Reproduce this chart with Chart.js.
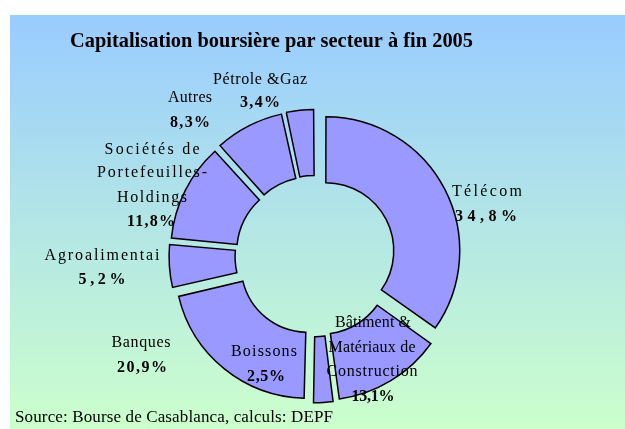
<!DOCTYPE html>
<html>
<head>
<meta charset="utf-8">
<script src="https://cdn.jsdelivr.net/npm/chart.js@4/dist/chart.umd.min.js"></script>
<style>
html,body{margin:0;padding:0;background:#fff;}
#wrap{width:625px;height:429px;position:relative;}
</style>
</head>
<body>
<div id="wrap"><canvas id="c" width="625" height="429"></canvas></div>
<script>
// ---- data ----
const categories = ["Télécom", "Bâtiment & Matériaux de Construction", "Boissons", "Banques", "Agroalimentai", "Sociétés de Portefeuilles-Holdings", "Autres", "Pétrole &Gaz"];
const labelLines = [["Télécom"], ["Bâtiment &", "Matériaux de", "Construction"], ["Boissons"], ["Banques"], ["Agroalimentai"], ["Sociétés de", "Portefeuilles-", "Holdings"], ["Autres"], ["Pétrole &Gaz"]];
const shares = [34.8, 13.1, 2.5, 20.9, 5.2, 11.8, 8.3, 3.4];
const shareLabels = ["34,8%", "13,1%", "2,5%", "20,9%", "5,2%", "11,8%", "8,3%", "3,4%"];
const titleText = "Capitalisation boursière par secteur à fin 2005";
const sourceText = "Source: Bourse de Casablanca, calculs: DEPF";

// ---- layout (positions / sizes, kept apart from data) ----
// per category: [centerX, centerY, targetWidth] for each name line, then for the value line
const labelLayout = [
  {lines: [[487, 192, 70]], value: [486, 217, 62]},
  {lines: [[373, 323, 76], [372, 348, 87], [372, 372, 91]], value: [373, 397, 43]},
  {lines: [[264, 352, 66]], value: [266, 377, 38]},
  {lines: [[141, 343, 59]], value: [142, 368, 50]},
  {lines: [[102, 256, 115]], value: [102, 280, 47]},
  {lines: [[152, 150, 95], [152, 173, 110], [152, 198, 70]], value: [151, 222, 48]},
  {lines: [[190, 98, 44]], value: [190, 123, 40]},
  {lines: [[260, 80, 94]], value: [260, 103, 40]}
];
const SERIF = "'Liberation Serif', 'Times New Roman', serif";
const EXPLODE = 13;

function fitText(ctx, text, cx, cy, target) {
  ctx.letterSpacing = '0px';
  const w = ctx.measureText(text).width;
  const n = [...text].length;
  const ls = n > 1 ? (target - w) / (n - 1) : 0;
  ctx.letterSpacing = ls + 'px';
  ctx.textAlign = 'left';
  ctx.textBaseline = 'middle';
  ctx.fillText(text, cx - target / 2, cy);
  ctx.letterSpacing = '0px';
}

function scaleText(ctx, text, cx, cy, target) {
  ctx.letterSpacing = '0px';
  const w = ctx.measureText(text).width;
  ctx.save();
  ctx.translate(cx - target / 2, cy);
  ctx.scale(target / w, 1);
  ctx.textAlign = 'left';
  ctx.textBaseline = 'middle';
  ctx.fillText(text, 0, 0);
  ctx.restore();
}

const decor = {
  id: 'decor',
  beforeDraw(chart) {
    const ctx = chart.ctx;
    ctx.save();
    ctx.fillStyle = '#ffffff';
    ctx.fillRect(0, 0, chart.width, chart.height);
    const g = ctx.createLinearGradient(0, 15, 0, 429);
    g.addColorStop(0, '#99CCFF');
    g.addColorStop(1, '#CCFFCC');
    ctx.fillStyle = g;
    ctx.fillRect(10, 15, 615, 414);
    ctx.restore();
  },
  afterDraw(chart) {
    const ctx = chart.ctx;
    ctx.save();
    ctx.fillStyle = '#000';
    ctx.font = "bold 22px " + SERIF;
    scaleText(ctx, titleText, 271.5, 41, 403);
    labelLayout.forEach((lay, i) => {
      ctx.font = "16px " + SERIF;
      lay.lines.forEach((p, j) => fitText(ctx, labelLines[i][j], p[0], p[1], p[2]));
      ctx.font = "bold 16px " + SERIF;
      fitText(ctx, shareLabels[i], lay.value[0], lay.value[1], lay.value[2]);
    });
    ctx.font = "17px " + SERIF;
    fitText(ctx, sourceText, 15 + 318 / 2, 418, 318);
    ctx.restore();
  }
};

new Chart(document.getElementById('c'), {
  type: 'doughnut',
  data: {
    labels: categories,
    datasets: [{
      data: shares,
      backgroundColor: '#9999FF',
      borderColor: '#000000',
      borderWidth: 1.5,
      borderJoinStyle: 'miter',
      offset: (c) => {
        const total = shares.reduce((a, b) => a + b, 0);
        const circ = shares[c.dataIndex] / total * Math.PI * 2;
        const fix = 1 - Math.sin(Math.min(Math.PI, circ));
        return 4 * EXPLODE / (1 + 0.75 * fix);
      }
    }]
  },
  options: {
    responsive: false,
    animation: false,
    events: [],
    radius: 132,
    cutout: '50%',
    layout: {padding: {left: 21, right: 15, top: 100, bottom: 17}},
    plugins: {legend: {display: false}, title: {display: false}, tooltip: {enabled: false}}
  },
  plugins: [decor]
});
</script>
</body>
</html>
